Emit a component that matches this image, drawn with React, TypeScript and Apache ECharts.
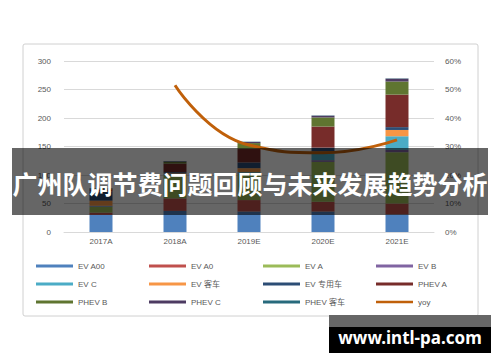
import React, { useEffect, useRef } from 'react';
import * as echarts from 'echarts';

const categories = ['2017A', '2018A', '2019E', '2020E', '2021E'];

const seriesNames = ['EV A00', 'EV A0', 'EV A', 'EV B', 'EV C', 'EV 客车', 'EV 专用车', 'PHEV A', 'PHEV B', 'PHEV C', 'PHEV 客车'];
const evA00 = [30, 37, 36, 36, 31];
const evA0 = [4, 22, 20, 17, 19];
const evA = [10, 41, 46, 70, 90];
const evB = [1, 1, 1, 3, 4];
const evC = [1, 1, 2, 12, 24];
const evBus = [9, 1, 7, 3, 11];
const evSpecial = [16, 2, 10, 7, 5];
const phevA = [4, 15, 24, 37, 57];
const phevB = [1, 3, 10, 16, 23];
const phevC = [0, 1, 2, 3, 5];
const phevBus = [1, 0.5, 0.5, 0.5, 0.5];
const barValues = [evA00, evA0, evA, evB, evC, evBus, evSpecial, phevA, phevB, phevC, phevBus];

const yoyName = 'yoy';
const yoy = [null, 51.5, 30.5, 27.8, 32.3];

const barColors = ['#4F81BD', '#C0504D', '#9BBB59', '#8064A2', '#4BACC6', '#F79646', '#2C4D75', '#772C2A', '#5F7530', '#4D3B62', '#276A7C'];
const yoyColor = '#C0600A';

const bannerText = '广州队调节费问题回顾与未来发展趋势分析';
const watermarkText = 'www.intl-pa.com';

export default function App() {
  const ref = useRef<HTMLDivElement>(null);
  useEffect(() => {
    if (!ref.current) return;
    const chart = echarts.init(ref.current, undefined, { renderer: 'svg' });
    const font = "'Liberation Sans', 'Noto Sans CJK SC', sans-serif";
    const allNames = [...seriesNames, yoyName];
    const colX = [36, 149, 263, 376];
    const rowY = [266, 284, 302];
    const legends = allNames.map((n, i) => ({
      data: [{ name: n, icon: 'rect' }],
      left: colX[i % 4],
      top: rowY[Math.floor(i / 4)] - 5,
      itemWidth: 37,
      itemHeight: n === yoyName ? 2.5 : 3,
      itemGap: 0,
      padding: 0,
      textStyle: { fontSize: 8, color: '#595959', fontFamily: font, lineHeight: 10 },
    }));
    const barSeries = seriesNames.map((n, i) => ({
      name: n,
      type: 'bar',
      stack: 'total',
      barWidth: 23,
      data: barValues[i],
      itemStyle: { color: barColors[i] },
      yAxisIndex: 0,
    }));
    chart.setOption({
      animation: false,
      backgroundColor: '#ffffff',
      legend: legends,
      grid: { left: 64, right: 66, top: 61, bottom: 130 },
      xAxis: {
        type: 'category',
        data: categories,
        axisLine: { show: true, lineStyle: { color: '#D9D9D9' } },
        axisTick: { show: false },
        axisLabel: { fontSize: 8, color: '#595959', fontFamily: font, margin: 5 },
      },
      yAxis: [
        {
          type: 'value',
          min: 0,
          max: 300,
          interval: 50,
          axisLine: { show: false },
          axisTick: { show: false },
          splitLine: { lineStyle: { color: '#D9D9D9' } },
          axisLabel: { fontSize: 8, color: '#595959', fontFamily: font, margin: 13 },
        },
        {
          type: 'value',
          min: 0,
          max: 60,
          interval: 10,
          axisLine: { show: false },
          axisTick: { show: false },
          splitLine: { show: false },
          axisLabel: { fontSize: 8, color: '#595959', fontFamily: font, margin: 11, formatter: '{value}%' },
        },
      ],
      series: [
        ...barSeries,
        {
          name: yoyName,
          type: 'line',
          yAxisIndex: 1,
          data: yoy,
          smooth: 0.5,
          showSymbol: false,
          symbol: 'none',
          color: yoyColor,
          lineStyle: { color: yoyColor, width: 3 },
          itemStyle: { color: yoyColor },
          z: 3,
        },
      ],
      graphic: [
        {
          type: 'rect',
          z: 0,
          shape: { x: 23, y: 44, width: 455, height: 272, r: 2 },
          style: { fill: 'none', stroke: '#D0D0D0', lineWidth: 1 },
          silent: true,
        },
        {
          type: 'rect',
          z: 100,
          shape: { x: 12, y: 148, width: 476, height: 67 },
          style: { fill: 'rgba(0,0,0,0.6)' },
          silent: true,
        },
        {
          type: 'text',
          z: 101,
          x: 250,
          y: 183,
          style: {
            text: bannerText,
            align: 'center',
            verticalAlign: 'middle',
            fill: '#ffffff',
            fontSize: 25,
            fontWeight: 'bold',
            fontFamily: "'Noto Sans CJK SC', sans-serif",
          },
          silent: true,
        },
        {
          type: 'rect',
          z: 100,
          shape: { x: 329, y: 315, width: 162, height: 12 },
          style: { fill: '#666666' },
          silent: true,
        },
        {
          type: 'rect',
          z: 100,
          shape: { x: 329, y: 327, width: 162, height: 26 },
          style: { fill: '#000000' },
          silent: true,
        },
        {
          type: 'text',
          z: 101,
          x: 410,
          y: 337,
          style: {
            text: watermarkText,
            align: 'center',
            verticalAlign: 'middle',
            fill: '#ffffff',
            fontSize: 17,
            fontWeight: 'bold',
            fontFamily: "'Noto Sans', 'DejaVu Sans', sans-serif",
          },
          silent: true,
        },
      ],
    });
    return () => chart.dispose();
  }, []);
  return <div ref={ref} style={{ position: 'fixed', left: 0, top: 0, width: 500, height: 362 }} />;
}
